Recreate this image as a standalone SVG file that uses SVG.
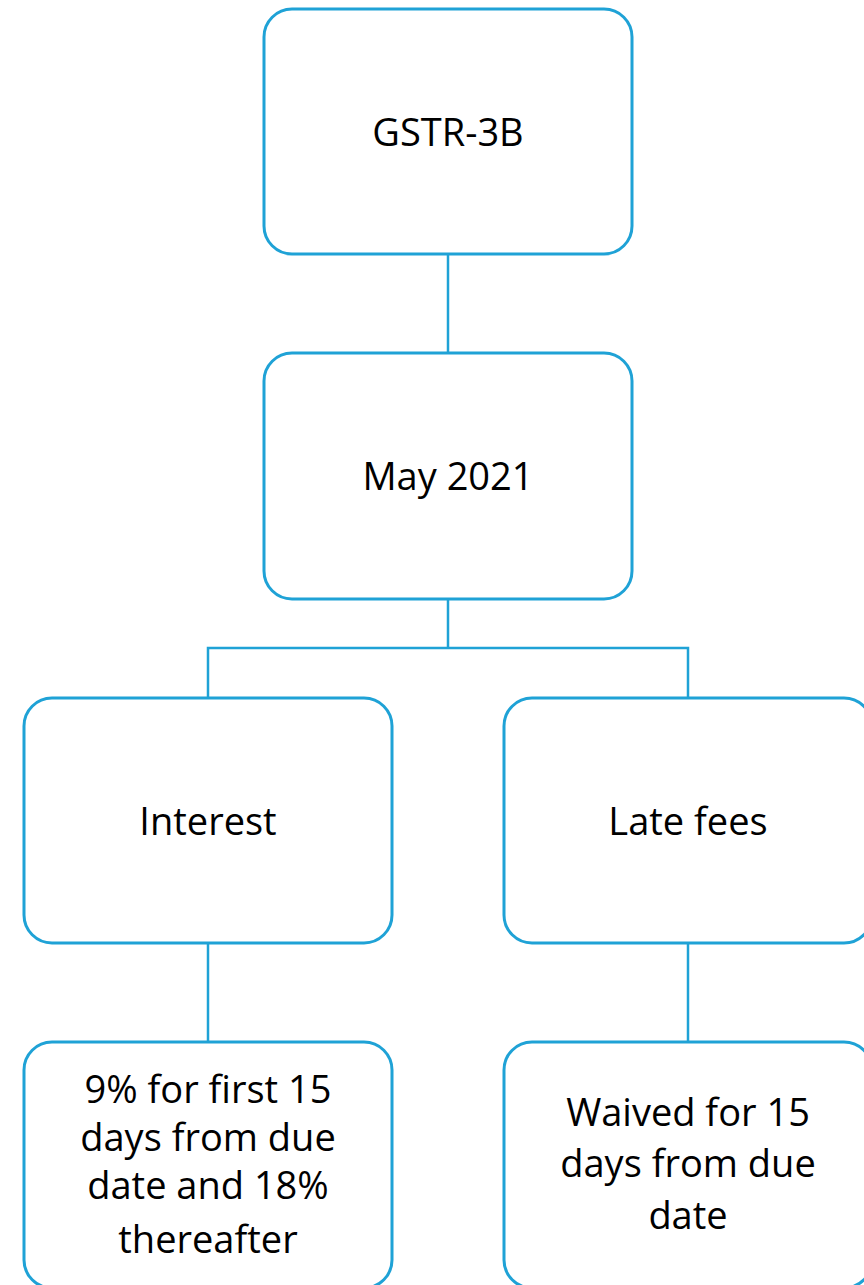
<svg xmlns="http://www.w3.org/2000/svg" width="864" height="1285" viewBox="0 0 864 1285">
<style>
.box{fill:#fff;stroke:#1fa2d6;stroke-width:3}
.conn{fill:none;stroke:#1fa2d6;stroke-width:2.5}
.t{font-family:"Open Sans","Liberation Sans",sans-serif;font-size:38px;fill:#000;text-anchor:middle}
</style>
<rect width="864" height="1285" fill="#fff"/>
<g id="connectors">
<path class="conn" d="M448 254V353"/>
<path class="conn" d="M448 599V648M208 698V648H688V698"/>
<path class="conn" d="M208 943V1042"/>
<path class="conn" d="M688 943V1042"/>
</g>
<g id="gstr"><rect class="box" x="264" y="9" width="368" height="245" rx="28"/><text class="t" x="448" y="146">GSTR-3B</text></g>
<g id="may"><rect class="box" x="264" y="353" width="368" height="246" rx="28"/><text class="t" x="448" y="490">May 2021</text></g>
<g id="interest"><rect class="box" x="24" y="698" width="368" height="245" rx="28"/><text class="t" x="208" y="835">Interest</text></g>
<g id="latefees"><rect class="box" x="504" y="698" width="368" height="245" rx="28"/><text class="t" x="688" y="835">Late fees</text></g>
<g id="interest-detail"><rect class="box" x="24" y="1042" width="368" height="246" rx="28"/><text class="t" x="208"><tspan x="208" y="1103">9% for first 15</tspan><tspan x="208" y="1151">days from due</tspan><tspan x="208" y="1199">date and 18%</tspan><tspan x="208" y="1253">thereafter</tspan></text></g>
<g id="latefees-detail"><rect class="box" x="504" y="1042" width="368" height="246" rx="28"/><text class="t" x="688"><tspan x="688" y="1126">Waived for 15</tspan><tspan x="688" y="1177">days from due</tspan><tspan x="688" y="1229">date</tspan></text></g>
</svg>
